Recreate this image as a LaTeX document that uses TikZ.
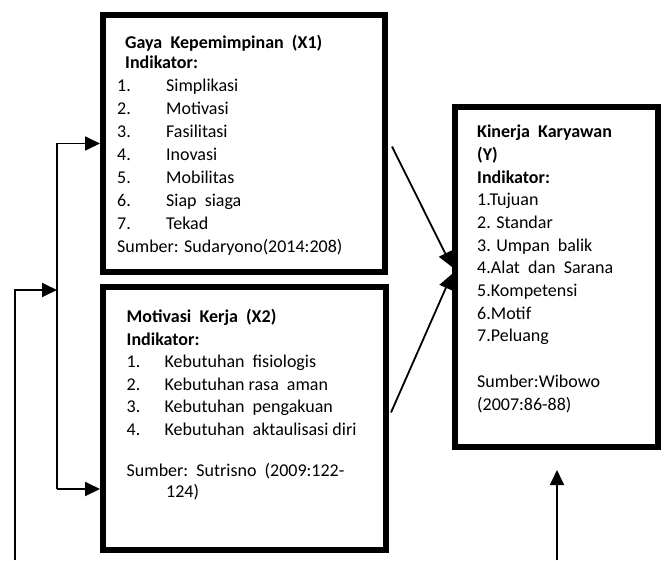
\documentclass[tikz,border=0pt]{standalone}
\usepackage{fontspec}
\setmainfont{Carlito}
\usepackage{tikz}
\usetikzlibrary{arrows.meta,positioning,calc}

\newcommand{\idx}[2][49pt]{\makebox[#1][l]{#2}}

\begin{document}
\begin{tikzpicture}[
    x=1pt, y=-1pt,
    varbox/.style={rectangle, draw, line width=6pt, inner sep=0pt},
    boxtext/.style={anchor=base west, align=left, inner sep=0pt},
    arrow/.style={-{Triangle[length=15pt,width=14pt]}, line width=1.8pt}
]
    \useasboundingbox (0,0) rectangle (664,560);

    % Variables
    \node[varbox, minimum width=282pt, minimum height=257pt] (x1) at (244,143.5) {};
    \node[varbox, minimum width=283pt, minimum height=263pt] (x2) at (244.5,418.5) {};
    \node[varbox, minimum width=203pt, minimum height=340pt] (y) at (556.5,277) {};

    % Indicators (placed by the baseline of their last line)
    \node[boxtext, font=\fontsize{18}{23}\selectfont] (x1txt) at ($(x1.south west)+(17,-23)$) {%
        \hspace*{8pt}\textbf{Gaya~~Kepemimpinan~~(X1)}\\[-3pt]
        \hspace*{8pt}\textbf{Indikator:}\\
        \idx{1.}Simplikasi\\
        \idx{2.}Motivasi\\
        \idx{3.}Fasilitasi\\
        \idx{4.}Inovasi\\
        \idx{5.}Mobilitas\\
        \idx{6.}Siap~~siaga\\
        \idx{7.}Tekad\\
        Sumber: Sudaryono(2014:208)};
    \node[boxtext, font=\fontsize{18}{22.5}\selectfont] (x2txt) at ($(x2.south west)+(26.5,-56)$) {%
        \textbf{Motivasi~~Kerja~~(X2)}\\
        \textbf{Indikator:}\\
        \idx[38pt]{1.}Kebutuhan~~fisiologis\\
        \idx[38pt]{2.}Kebutuhan rasa~~aman\\
        \idx[38pt]{3.}Kebutuhan~~pengakuan\\
        \idx[38pt]{4.}Kebutuhan~~aktaulisasi diri\\[19pt]
        Sumber:~~Sutrisno~~(2009:122-\\[-2pt]
        \hspace*{39.5pt}124)};
    \node[boxtext, font=\fontsize{18}{22.7}\selectfont] (ytxt) at ($(y.south west)+(25,-40)$) {%
        \textbf{Kinerja~~Karyawan}\\
        \textbf{(Y)}\\
        \textbf{Indikator:}\\
        1.Tujuan\\
        2. Standar\\
        3. Umpan~~balik\\
        4.Alat~~dan~~Sarana\\
        5.Kompetensi\\
        6.Motif\\
        7.Peluang\\[22.7pt]
        Sumber:Wibowo\\
        (2007:86-88)};

    % Connector ends
    \coordinate (x1out) at ($(x1.east)+(4,3)$);
    \coordinate (x2out) at ($(x2.east)+(2,-6)$);
    \coordinate (yin1) at ($(y.west)+(0,-10)$);
    \coordinate (yin2) at ($(y.west)+(0,-3)$);
    \coordinate (trunk) at ($(x1.west)+(-43,0)$);
    \coordinate (x2in) at ($(x2.west)+(0,70.5)$);
    \coordinate (feed) at (15,560);
    \coordinate (feedin) at ($(trunk)+(0,146.5)$);
    \coordinate (yfeed) at ($(y.south)+(0.5,110)$);
    \coordinate (yin3) at ($(y.south)+(0.5,20)$);

    % Arrows
    \draw[arrow] (x1out) -- (yin1);
    \draw[arrow] (x2out) -- (yin2);
    \draw[arrow] (trunk |- x2in) |- (x1.west);
    \draw[arrow] (trunk |- x2in) -- (x2in);
    \draw[arrow] (feed) |- (feedin);
    \draw[arrow] (yfeed) -- (yin3);
\end{tikzpicture}
\end{document}
